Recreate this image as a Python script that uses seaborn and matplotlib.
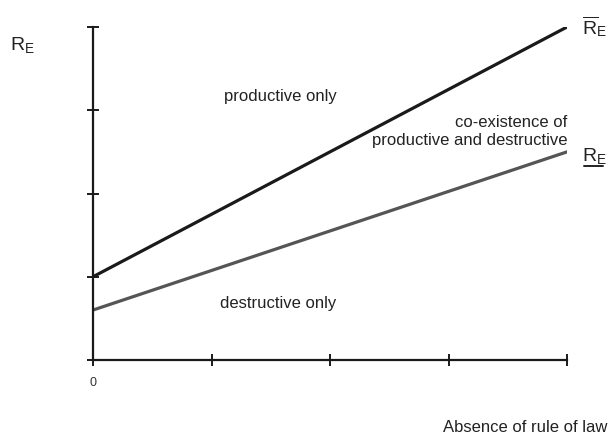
import matplotlib
matplotlib.use("Agg")
import matplotlib.pyplot as plt
import numpy as np
import seaborn as sns

# ==============================
# data
# ==============================
x_ticks = [0, 1, 2, 3, 4]
x_ticklabels = ["0", "", "", "", ""]
y_ticks = [0, 1, 2, 3, 4]

x_vals = [0, 4]
upper_threshold = [1.0, 4.0]   # R_E bar
lower_threshold = [0.6, 2.5]   # R_E underline

sns.set_theme(style="white")
plt.rcParams["font.family"] = ["Liberation Sans", "DejaVu Sans"]
plt.rcParams["mathtext.fontset"] = "custom"
plt.rcParams["mathtext.rm"] = "Liberation Sans"
plt.rcParams["mathtext.it"] = "Liberation Sans"

fig = plt.figure(figsize=(6.12, 4.41), dpi=100)
ax = fig.add_axes([93 / 612, 1 - 360 / 441, (567 - 93) / 612, (360 - 27) / 441])

sns.lineplot(x=x_vals, y=upper_threshold, ax=ax, color="#1a1a1a", linewidth=2.3)
sns.lineplot(x=x_vals, y=lower_threshold, ax=ax, color="#555555", linewidth=2.3)

ax.set_xlim(0, 4)
ax.set_ylim(0, 4)
ax.set_xticks(x_ticks)
ax.set_xticklabels(x_ticklabels, fontsize=9, color="#333333")
ax.set_yticks(y_ticks)
ax.set_yticklabels([])

sns.despine(ax=ax)
for s in ["left", "bottom"]:
    ax.spines[s].set_color("#1a1a1a")
    ax.spines[s].set_linewidth(1.6)
ax.tick_params(axis="both", direction="inout", length=9, width=1.4,
               color="#1a1a1a", left=True, bottom=True, pad=8)

# region labels
txt = dict(fontsize=12, color="#222222")
ax.text(1.58, 3.17, "productive only", ha="center", va="center", **txt)
ax.text(4.0, 2.74, "co-existence of\nproductive and destructive",
        ha="right", va="center", multialignment="right", linespacing=1.25, **txt)
ax.text(1.56, 0.68, "destructive only", ha="center", va="center", **txt)

# curve labels
ax.text(4.13, 4.0, r"$\overline{\mathrm{R}}_\mathrm{E}$", ha="left", va="center",
        fontsize=14, color="#222222", clip_on=False)
ax.text(4.13, 2.45, r"$\mathrm{R}_\mathrm{E}$", ha="left", va="center",
        fontsize=14, color="#222222", clip_on=False)
ax.plot([4.14, 4.3], [2.33, 2.33], color="#222222", linewidth=1.4, clip_on=False)

fig.text(22 / 612, 1 - 45 / 441, r"$\mathrm{R}_\mathrm{E}$", ha="center", va="center",
         fontsize=14, color="#222222")
fig.text(607 / 612, 1 - 428 / 441, "Absence of rule of law", ha="right", va="center",
         fontsize=12, color="#222222")

fig.savefig("out.png", dpi=100)
plt.close()
